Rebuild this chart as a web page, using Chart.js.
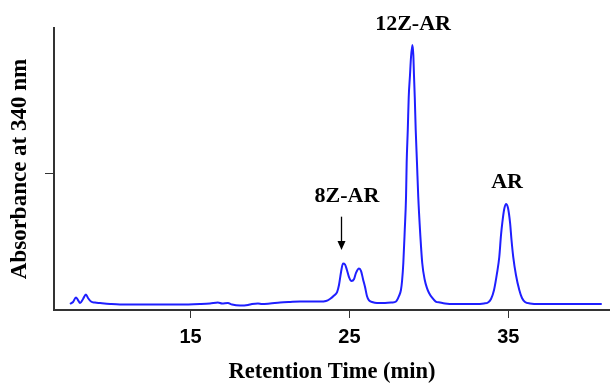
<!DOCTYPE html>
<html>
<head>
<meta charset="utf-8">
<script src="https://cdn.jsdelivr.net/npm/chart.js@4.4.0/dist/chart.umd.min.js"></script>
<style>
  html, body { margin: 0; padding: 0; background: #fff; }
</style>
</head>
<body>
<canvas id="chart" width="610" height="383"></canvas>
<script>
// chromatogram trace (min, absorbance)
const retentionTime = [
  7.41, 7.60, 7.78, 7.91, 8.04, 8.23, 8.41, 8.54, 8.73, 8.98,
  9.30, 9.93, 10.55, 11.81, 13.07, 14.33, 15.59, 16.22, 16.72, 16.98,
  17.35, 17.61, 18.11, 18.61, 18.86, 19.24, 19.49, 20.00, 20.63, 21.26,
  21.89, 22.52, 23.15, 23.52, 23.77, 24.03, 24.22, 24.34, 24.47, 24.59,
  24.72, 24.84, 24.97, 25.13, 25.29, 25.41, 25.60, 25.73, 25.85, 25.98,
  26.10, 26.23, 26.42, 26.73, 27.24, 27.68, 27.93, 28.12, 28.24, 28.31,
  28.39, 28.48, 28.56, 28.60, 28.67, 28.73, 28.81, 28.87, 28.96, 29.02,
  29.06, 29.11, 29.17, 29.25, 29.33, 29.44, 29.58, 29.74, 29.88, 30.01,
  30.19, 30.43, 30.70, 31.01, 31.64, 32.27, 32.90, 33.47, 33.72, 33.91,
  34.10, 34.29, 34.43, 34.54, 34.62, 34.73, 34.85, 34.98, 35.11, 35.20,
  35.31, 35.48, 35.69, 35.86, 36.05, 36.36, 36.99, 38.25, 39.51, 40.88
];
const absorbance = [
  0.044, 0.059, 0.092, 0.073, 0.051, 0.081, 0.114, 0.088, 0.062, 0.055,
  0.051, 0.044, 0.040, 0.040, 0.040, 0.040, 0.044, 0.048, 0.055, 0.048,
  0.051, 0.040, 0.033, 0.037, 0.044, 0.048, 0.044, 0.048, 0.055, 0.059,
  0.062, 0.062, 0.062, 0.066, 0.081, 0.106, 0.132, 0.184, 0.279, 0.341,
  0.334, 0.294, 0.242, 0.213, 0.228, 0.272, 0.305, 0.286, 0.228, 0.169,
  0.103, 0.070, 0.059, 0.051, 0.051, 0.055, 0.062, 0.103, 0.147, 0.213,
  0.345, 0.587, 0.829, 1.079, 1.321, 1.563, 1.725, 1.850, 1.945, 1.872,
  1.725, 1.563, 1.321, 1.079, 0.829, 0.587, 0.345, 0.220, 0.161, 0.125,
  0.092, 0.062, 0.055, 0.048, 0.044, 0.044, 0.044, 0.048, 0.055, 0.081,
  0.147, 0.272, 0.389, 0.551, 0.639, 0.734, 0.778, 0.749, 0.639, 0.514,
  0.389, 0.257, 0.147, 0.088, 0.059, 0.048, 0.044, 0.044, 0.044, 0.044
];

const xTicks = [15, 25, 35];
const yTicks = [1];

// peak labels, anchored in data units
const peakNames = ['8Z-AR', '12Z-AR', 'AR'];
const peakLabelTime = [24.84, 29.0, 34.92];
const peakLabelAbs = [0.795, 2.055, 0.893];
const arrowTime = 24.45;
const arrowFrom = 0.685;
const arrowTo = 0.44;

const serif = "'Liberation Serif', 'Times New Roman', serif";
const sans = "'Liberation Sans', Arial, sans-serif";
const axisColor = '#333';

const peakLabels = {
  id: 'peakLabels',
  afterDraw(chart) {
    const { ctx, scales: { x, y } } = chart;
    ctx.save();
    ctx.fillStyle = '#000';
    ctx.font = `bold 22px ${serif}`;
    ctx.textAlign = 'center';
    ctx.textBaseline = 'alphabetic';
    peakNames.forEach((name, i) => {
      ctx.fillText(name, x.getPixelForValue(peakLabelTime[i]), y.getPixelForValue(peakLabelAbs[i]));
    });

    const ax = Math.round(x.getPixelForValue(arrowTime)) + 0.5;
    const y1 = y.getPixelForValue(arrowFrom);
    const y2 = y.getPixelForValue(arrowTo);
    ctx.strokeStyle = '#000';
    ctx.lineWidth = 1.3;
    ctx.beginPath();
    ctx.moveTo(ax, y1);
    ctx.lineTo(ax, y2 - 7);
    ctx.stroke();
    ctx.beginPath();
    ctx.moveTo(ax - 4, y2 - 9);
    ctx.lineTo(ax + 4, y2 - 9);
    ctx.lineTo(ax, y2);
    ctx.closePath();
    ctx.fill();
    ctx.restore();
  }
};

new Chart(document.getElementById('chart'), {
  type: 'line',
  data: {
    datasets: [{
      data: retentionTime.map((t, i) => ({ x: t, y: absorbance[i] })),
      borderColor: '#1f1fff',
      borderWidth: 2,
      pointRadius: 0,
      cubicInterpolationMode: 'monotone',
      fill: false
    }]
  },
  options: {
    responsive: false,
    animation: false,
    layout: { padding: { top: 28, right: 0, left: 0, bottom: 0 } },
    plugins: { legend: { display: false }, tooltip: { enabled: false } },
    scales: {
      x: {
        type: 'linear',
        min: 6.4,
        max: 41.4,
        afterBuildTicks: s => { s.ticks = xTicks.map(v => ({ value: v })); },
        afterFit: s => { s.height = 73; },
        grid: { drawOnChartArea: false, tickLength: 8, color: axisColor },
        border: { color: axisColor, width: 2 },
        ticks: {
          color: '#000',
          font: { family: sans, size: 20, weight: 'bold' },
          padding: 7,
          maxRotation: 0
        },
        title: {
          display: true,
          text: 'Retention Time (min)',
          color: '#000',
          font: { family: serif, size: 22.5, weight: 'bold', lineHeight: 1 },
          padding: 0
        }
      },
      y: {
        min: 0,
        max: 2.07,
        afterBuildTicks: s => { s.ticks = yTicks.map(v => ({ value: v })); },
        afterFit: s => { s.width = 54; },
        grid: { drawOnChartArea: false, tickLength: 9, color: axisColor },
        border: { color: axisColor, width: 2 },
        ticks: { display: false },
        title: {
          display: true,
          text: 'Absorbance at 340 nm',
          color: '#000',
          font: { family: serif, size: 23, weight: 'bold', lineHeight: 1 },
          padding: { top: 9, bottom: 0 }
        }
      }
    }
  },
  plugins: [peakLabels]
});
</script>
</body>
</html>
